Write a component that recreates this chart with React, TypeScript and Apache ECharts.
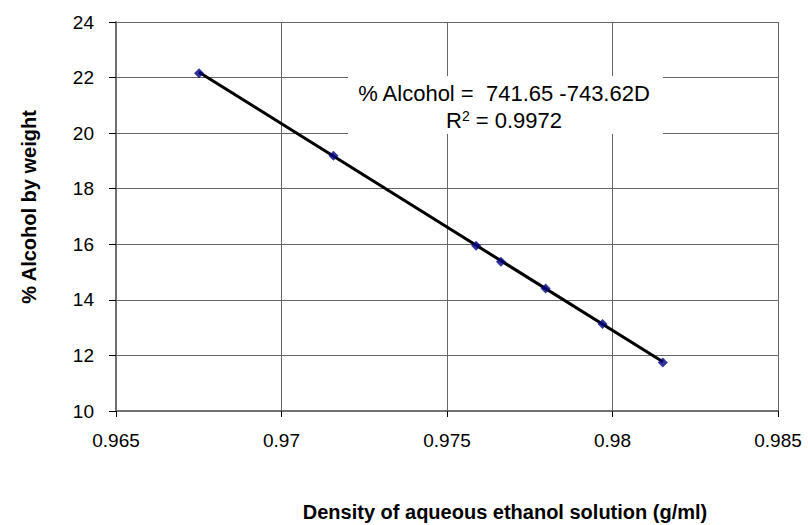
import React, { useEffect, useRef } from "react";
import * as echarts from "echarts";

const density = [0.96751, 0.97157, 0.97588, 0.97663, 0.97798, 0.9797, 0.98152];
const alcohol = [22.16, 19.19, 15.95, 15.37, 14.41, 13.13, 11.75];
const trendIntercept = 741.65;
const trendSlope = -743.62;
const rSquared = "0.9972";
const xTicks = [0.965, 0.97, 0.975, 0.98, 0.985];
const yTicks = [10, 12, 14, 16, 18, 20, 22, 24];
const xTitle = "Density of aqueous ethanol solution (g/ml)";
const yTitle = "% Alcohol by weight";

const FONT = "'Liberation Sans', Arial, sans-serif";

export default function App() {
  const ref = useRef<HTMLDivElement>(null);
  useEffect(() => {
    if (!ref.current) return;
    const chart = echarts.init(ref.current, undefined, { renderer: "svg" });
    const xMin = Math.min(...density);
    const xMax = Math.max(...density);
    const trend = [
      [xMin, trendIntercept + trendSlope * xMin],
      [xMax, trendIntercept + trendSlope * xMax],
    ];
    chart.setOption({
      animation: false,
      backgroundColor: "#ffffff",
      grid: { left: 116, right: 30, top: 22, bottom: 114 },
      xAxis: {
        type: "value",
        min: xTicks[0],
        max: xTicks[xTicks.length - 1],
        interval: 0.005,
        axisLine: { show: true, lineStyle: { color: "#707070", width: 2 } },
        axisTick: { show: true, inside: false, length: 6, lineStyle: { color: "#000", width: 1 } },
        axisLabel: {
          margin: 20,
          fontFamily: FONT,
          fontSize: 19,
          color: "#000",
          formatter: (v: number) => String(+v.toFixed(3)),
        },
        splitLine: { show: true, lineStyle: { color: "#666", width: 1 } },
      },
      yAxis: {
        type: "value",
        min: yTicks[0],
        max: yTicks[yTicks.length - 1],
        interval: 2,
        axisLine: { show: true, lineStyle: { color: "#707070", width: 2 } },
        axisTick: { show: true, inside: false, length: 7, lineStyle: { color: "#000", width: 1 } },
        axisLabel: { margin: 22, fontFamily: FONT, fontSize: 19, color: "#000" },
        splitLine: { show: true, lineStyle: { color: "#666", width: 1 } },
      },
      series: [
        {
          type: "line",
          data: trend,
          showSymbol: false,
          lineStyle: { color: "#000", width: 3 },
          z: 3,
        },
        {
          type: "scatter",
          data: density.map((d, i) => [d, alcohol[i]]),
          symbol: "diamond",
          symbolSize: 10,
          itemStyle: { color: "#000080" },
          z: 4,
        },
      ],
      graphic: [
        {
          type: "rect",
          shape: { x: 348, y: 76, width: 315, height: 58 },
          style: { fill: "#ffffff" },
          z: 100,
        },
        {
          type: "text",
          x: 504,
          y: 93,
          style: {
            text: "% Alcohol =  " + trendIntercept.toFixed(2) + " " + trendSlope.toFixed(2) + "D",
            fontFamily: FONT,
            fontSize: 22,
            fill: "#000",
            align: "center",
            verticalAlign: "middle",
          },
          z: 101,
        },
        {
          type: "text",
          x: 504,
          y: 120,
          style: {
            text: "{a|R}{s|2}{a| = " + rSquared + "}",
            align: "center",
            verticalAlign: "middle",
            rich: {
              a: { fontFamily: FONT, fontSize: 22, color: "#000" },
              s: { fontFamily: FONT, fontSize: 14, color: "#000", verticalAlign: "top", padding: [0, 0, 8, 0] },
            },
          },
          z: 101,
        },
        {
          type: "text",
          x: 505,
          y: 512,
          style: {
            text: xTitle,
            fontFamily: FONT,
            fontSize: 20,
            fontWeight: "bold",
            fill: "#000",
            align: "center",
            verticalAlign: "middle",
          },
        },
        {
          type: "text",
          x: 29,
          y: 207,
          rotation: Math.PI / 2,
          style: {
            text: yTitle,
            fontFamily: FONT,
            fontSize: 20,
            fontWeight: "bold",
            fill: "#000",
            align: "center",
            verticalAlign: "middle",
          },
        },
      ],
    });
    return () => chart.dispose();
  }, []);
  return (
    <div
      ref={ref}
      style={{ position: "fixed", left: 0, top: 0, width: 808, height: 525, background: "#fff" }}
    />
  );
}
